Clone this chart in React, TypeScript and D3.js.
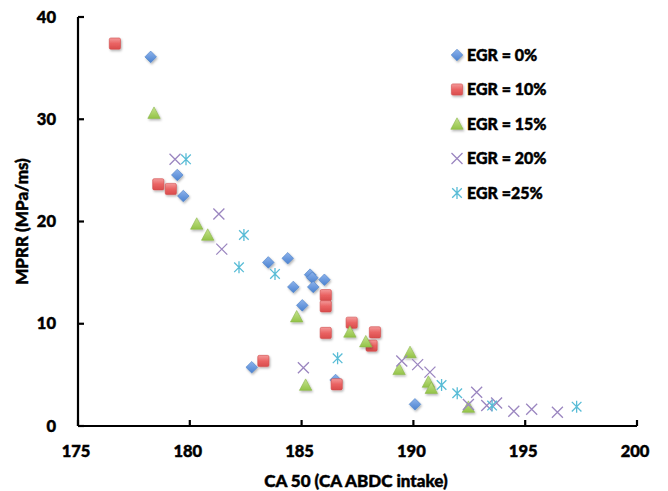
import React from "react";
import * as d3 from "d3";

const xTicks = [175, 180, 185, 190, 195, 200];
const yTicks = [0, 10, 20, 30, 40];

const seriesNames = ["EGR = 0%", "EGR = 10%", "EGR = 15%", "EGR = 20%", "EGR =25%"];

const egr0X = [178.25, 179.44, 179.71, 183.51, 184.38, 185.38, 185.48, 186.02, 184.63, 185.52, 185.03, 182.77, 186.52, 190.07];
const egr0Y = [36.1, 24.55, 22.49, 16.0, 16.4, 14.8, 14.5, 14.3, 13.6, 13.6, 11.8, 5.74, 4.5, 2.12];

const egr10X = [176.65, 178.59, 179.15, 186.08, 186.08, 186.08, 187.24, 183.29, 186.57, 188.28, 188.13];
const egr10Y = [37.4, 23.64, 23.18, 12.8, 11.7, 9.1, 10.1, 6.36, 4.08, 9.16, 7.86];

const egr15X = [178.4, 180.31, 180.8, 184.78, 185.18, 187.16, 187.87, 189.85, 189.36, 190.67, 190.8, 192.46];
const egr15Y = [30.6, 19.76, 18.68, 10.69, 4.0, 9.2, 8.25, 7.2, 5.54, 4.3, 3.7, 1.85];

const egr20X = [179.34, 181.3, 181.43, 185.08, 189.48, 190.19, 190.74, 192.83, 192.46, 193.28, 193.72, 194.49, 195.29, 196.44];
const egr20Y = [26.08, 20.73, 17.3, 5.7, 6.35, 6.0, 5.27, 3.3, 2.1, 2.0, 2.25, 1.45, 1.63, 1.34];

const egr25X = [179.83, 182.42, 182.2, 183.81, 186.61, 191.26, 191.96, 193.52, 197.3];
const egr25Y = [26.08, 18.68, 15.52, 14.87, 6.62, 4.01, 3.2, 2.0, 1.89];

const FONT = "Lato, 'Open Sans', sans-serif";
const WEIGHT = 900;
const TS = 0.45;

function Marker({ kind, x, y }: { kind: number; x: number; y: number }) {
  if (kind === 0) {
    const s = 5.8;
    return (
      <path
        d={`M${x},${y - s}L${x + s},${y}L${x},${y + s}L${x - s},${y}Z`}
        fill="url(#gBlue)"
        stroke="#4a7fc6"
        strokeWidth={0.6}
        filter="url(#shadow)"
      />
    );
  }
  if (kind === 1) {
    const s = 5.6;
    return (
      <rect
        x={x - s}
        y={y - s}
        width={2 * s}
        height={2 * s}
        rx={1.5}
        fill="url(#gRed)"
        stroke="#d24b4b"
        strokeWidth={0.6}
        filter="url(#shadow)"
      />
    );
  }
  if (kind === 2) {
    const s = 6.2;
    return (
      <path
        d={`M${x},${y - s}L${x + s},${y + s * 0.85}L${x - s},${y + s * 0.85}Z`}
        fill="url(#gGreen)"
        stroke="#8ab54a"
        strokeWidth={0.6}
        filter="url(#shadow)"
      />
    );
  }
  if (kind === 3) {
    const s = 5.5;
    return (
      <path
        d={`M${x - s},${y - s}L${x + s},${y + s}M${x - s},${y + s}L${x + s},${y - s}`}
        stroke="#9b86c0"
        strokeWidth={1.3}
        fill="none"
      />
    );
  }
  const s = 6;
  return (
    <path
      d={`M${x - s * 0.8},${y - s * 0.8}L${x + s * 0.8},${y + s * 0.8}M${x - s * 0.8},${y + s * 0.8}L${x + s * 0.8},${y - s * 0.8}M${x},${y - s}L${x},${y + s}`}
      stroke="#58bcd6"
      strokeWidth={1.3}
      fill="none"
    />
  );
}

export default function App() {
  const W = 668;
  const H = 491;
  const x = d3.scaleLinear().domain([175, 200]).range([78, 637]);
  const y = d3.scaleLinear().domain([0, 40]).range([426, 17]);

  const series = [
    [egr0X, egr0Y],
    [egr10X, egr10Y],
    [egr15X, egr15Y],
    [egr20X, egr20Y],
    [egr25X, egr25Y],
  ];

  const legendY = d3.scaleLinear().domain([0, 4]).range([55, 193]);

  return (
    <svg
      width={W}
      height={H}
      style={{ position: "absolute", left: 0, top: 0, background: "#fff" }}
      fontFamily={FONT}
    >
      <defs>
        <linearGradient id="gBlue" x1="0" y1="0" x2="0" y2="1">
          <stop offset="0" stopColor="#8db3ec" />
          <stop offset="1" stopColor="#4b82d0" />
        </linearGradient>
        <linearGradient id="gRed" x1="0" y1="0" x2="0" y2="1">
          <stop offset="0" stopColor="#f39a9a" />
          <stop offset="0.5" stopColor="#ea6363" />
          <stop offset="1" stopColor="#d94c4c" />
        </linearGradient>
        <linearGradient id="gGreen" x1="0" y1="0" x2="0" y2="1">
          <stop offset="0" stopColor="#c6e38e" />
          <stop offset="1" stopColor="#93c347" />
        </linearGradient>
        <filter id="shadow" x="-50%" y="-50%" width="200%" height="200%">
          <feDropShadow dx="1" dy="1.5" stdDeviation="1" floodColor="#000" floodOpacity="0.3" />
        </filter>
      </defs>
      <rect x={0} y={0} width={W} height={H} fill="#fff" />

      {/* points */}
      {series.map(([xs, ys], k) => (
        <g key={k}>
          {xs.map((xv, i) => (
            <Marker key={i} kind={k} x={x(xv)} y={y(ys[i])} />
          ))}
        </g>
      ))}

      {/* axes */}
      <line x1={x(175)} x2={x(200)} y1={y(0)} y2={y(0)} stroke="#000" strokeWidth={2.2} />
      <line x1={x(175)} x2={x(175)} y1={y(0)} y2={y(40)} stroke="#000" strokeWidth={2.2} />
      <g fill="#000" stroke="#000" strokeWidth={TS} fontWeight={WEIGHT}>
        {xTicks.map((t) => (
          <g key={t}>
            <line x1={x(t)} x2={x(t)} y1={y(0)} y2={y(0) - 6} strokeWidth={2.2} />
            <text x={x(t) - 2} y={y(0) + 31} textAnchor="middle" fontSize={16.5}>
              {t}
            </text>
          </g>
        ))}
        {yTicks.map((t) => (
          <g key={t}>
            <line x1={x(175)} x2={x(175) + 6} y1={y(t)} y2={y(t)} strokeWidth={2.2} />
            <text x={56} y={y(t) + 5.5} textAnchor="end" fontSize={16.5}>
              {t}
            </text>
          </g>
        ))}

        <text x={356} y={487} textAnchor="middle" fontSize={17}>
          CA 50 (CA ABDC intake)
        </text>
        <text
          transform={`translate(28,${(y(0) + y(40)) / 2}) rotate(-90)`}
          textAnchor="middle"
          fontSize={17}
        >
          MPRR (MPa/ms)
        </text>
      </g>

      {/* legend */}
      {seriesNames.map((name, k) => (
        <g key={name}>
          <Marker kind={k} x={457} y={legendY(k)} />
          <text
            x={467}
            y={legendY(k) + 5.5}
            fontSize={16}
            fontWeight={WEIGHT}
            fill="#000"
            stroke="#000"
            strokeWidth={TS}
          >
            {name}
          </text>
        </g>
      ))}
    </svg>
  );
}
